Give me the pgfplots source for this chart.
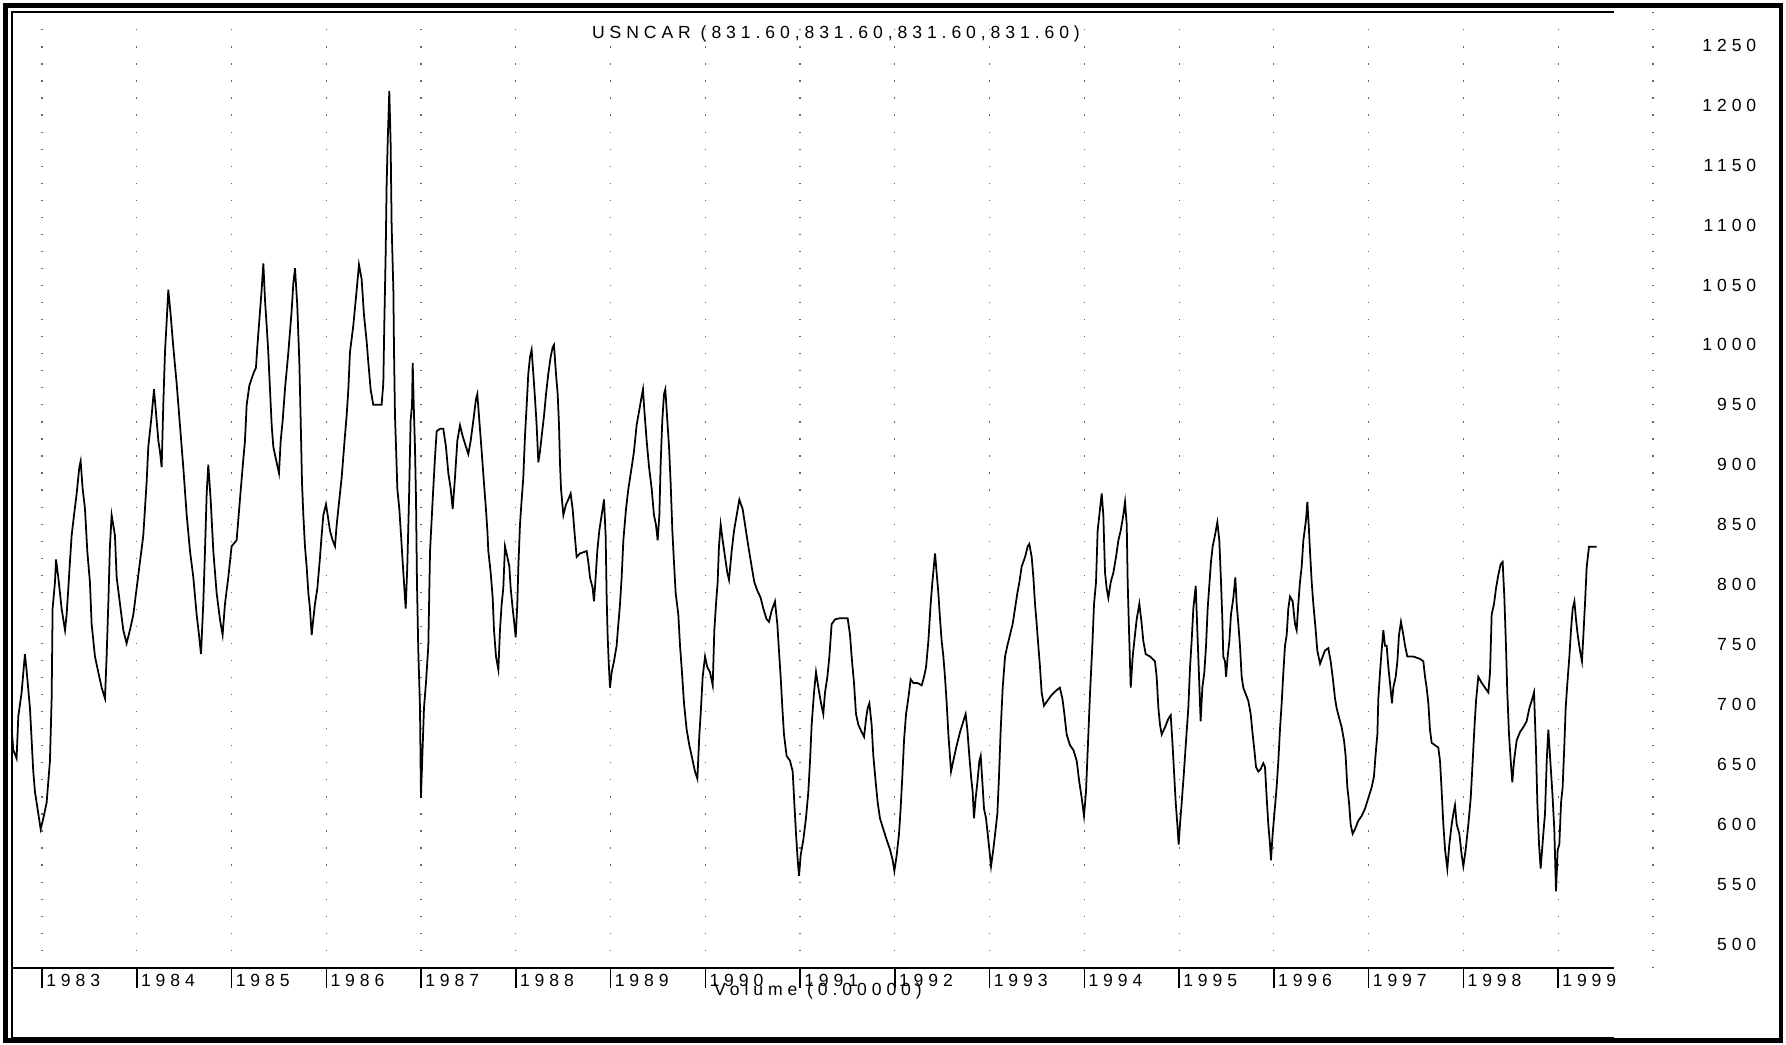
\documentclass[border=0pt]{standalone}
\usepackage{fontspec}
\setmainfont{Liberation Sans}
\newfontfamily\lsfont{Liberation Sans}[LetterSpace=28]
\usepackage{pgfplots}
\pgfplotsset{compat=1.18}
\newcommand\chartfont{\lsfont\fontsize{5pt}{6pt}\selectfont}
\pgfplotstableread{
x y
1982.679 680
1982.696 662
1982.731 655
1982.749 690
1982.784 710
1982.819 742
1982.837 728
1982.872 697
1982.890 670
1982.907 644
1982.925 627
1982.960 609
1982.985 596
1983.013 605
1983.048 618
1983.083 653
1983.101 705
1983.111 780
1983.136 802
1983.147 821
1983.171 806
1983.189 793
1983.206 780
1983.242 762
1983.259 775
1983.277 797
1983.294 819
1983.312 841
1983.337 858
1983.365 876
1983.393 898
1983.407 903
1983.428 880
1983.453 863
1983.477 828
1983.505 802
1983.523 767
1983.558 740
1983.593 727
1983.629 714
1983.664 705
1983.681 740
1983.699 784
1983.716 832
1983.734 858
1983.769 841
1983.787 806
1983.822 784
1983.857 762
1983.892 751
1983.927 762
1983.963 775
1983.998 797
1984.033 819
1984.068 841
1984.103 885
1984.121 915
1984.156 941
1984.181 963
1984.209 937
1984.227 920
1984.244 911
1984.262 898
1984.279 950
1984.297 994
1984.315 1020
1984.332 1046
1984.357 1025
1984.385 998
1984.420 968
1984.455 933
1984.490 898
1984.526 858
1984.561 828
1984.596 806
1984.631 775
1984.656 758
1984.677 742
1984.701 784
1984.719 828
1984.737 876
1984.754 900
1984.779 871
1984.807 828
1984.842 793
1984.877 771
1984.905 758
1984.930 784
1984.965 806
1985.000 832
1985.053 837
1985.088 871
1985.124 905
1985.141 920
1985.159 950
1985.187 966
1985.229 976
1985.257 981
1985.271 998
1985.292 1020
1985.317 1046
1985.335 1068
1985.352 1038
1985.370 1016
1985.387 994
1985.405 963
1985.423 933
1985.440 915
1985.475 902
1985.500 893
1985.518 920
1985.539 937
1985.563 963
1985.599 994
1985.616 1011
1985.634 1029
1985.651 1051
1985.669 1064
1985.693 1033
1985.715 985
1985.729 937
1985.743 885
1985.757 858
1985.774 832
1985.792 815
1985.810 793
1985.827 780
1985.845 758
1985.862 771
1985.880 784
1985.905 797
1985.933 823
1985.950 841
1985.968 858
1985.996 867
1986.014 858
1986.038 845
1986.066 837
1986.091 832
1986.109 850
1986.137 871
1986.161 889
1986.196 924
1986.214 941
1986.232 963
1986.249 994
1986.284 1016
1986.320 1046
1986.344 1067
1986.372 1055
1986.397 1025
1986.425 1003
1986.443 985
1986.467 963
1986.495 950
1986.531 950
1986.583 950
1986.601 968
1986.612 1020
1986.626 1077
1986.636 1134
1986.647 1169
1986.664 1212
1986.678 1169
1986.689 1099
1986.707 1046
1986.714 994
1986.724 941
1986.735 915
1986.749 880
1986.770 863
1986.788 841
1986.805 819
1986.819 802
1986.837 780
1986.854 815
1986.872 871
1986.889 937
1986.904 950
1986.911 985
1986.925 941
1986.935 915
1986.946 871
1986.956 802
1986.970 745
1986.988 697
1986.998 622
1987.013 657
1987.030 697
1987.051 718
1987.076 749
1987.094 828
1987.122 871
1987.146 906
1987.164 928
1987.199 930
1987.234 930
1987.262 915
1987.287 893
1987.312 880
1987.333 863
1987.357 889
1987.382 920
1987.410 933
1987.438 924
1987.473 915
1987.498 909
1987.523 920
1987.551 937
1987.579 955
1987.593 959
1987.614 937
1987.639 911
1987.663 885
1987.684 863
1987.699 845
1987.709 828
1987.734 810
1987.755 789
1987.769 762
1987.790 740
1987.815 729
1987.832 762
1987.850 784
1987.867 797
1987.885 832
1987.910 823
1987.931 815
1987.945 797
1987.966 780
1987.984 767
1987.998 756
1988.015 784
1988.026 815
1988.043 850
1988.061 871
1988.078 889
1988.096 924
1988.114 950
1988.131 976
1988.149 990
1988.166 996
1988.184 976
1988.202 955
1988.219 933
1988.237 902
1988.254 911
1988.272 924
1988.297 941
1988.318 959
1988.342 976
1988.367 990
1988.388 998
1988.402 1000
1988.423 976
1988.441 959
1988.455 933
1988.465 902
1988.476 880
1988.501 858
1988.529 867
1988.553 871
1988.578 876
1988.599 863
1988.617 845
1988.641 823
1988.676 826
1988.747 828
1988.764 819
1988.782 806
1988.810 797
1988.824 786
1988.845 810
1988.859 828
1988.880 845
1988.905 858
1988.930 871
1988.947 841
1988.958 789
1988.968 758
1988.979 736
1988.993 714
1989.011 727
1989.035 736
1989.063 749
1989.081 767
1989.099 784
1989.116 806
1989.134 837
1989.162 863
1989.187 880
1989.222 898
1989.246 911
1989.274 933
1989.303 946
1989.327 957
1989.341 963
1989.355 946
1989.380 920
1989.405 898
1989.433 880
1989.457 858
1989.478 850
1989.496 837
1989.514 858
1989.528 902
1989.545 937
1989.563 959
1989.577 963
1989.598 937
1989.616 915
1989.633 885
1989.651 845
1989.668 819
1989.686 793
1989.714 775
1989.732 749
1989.749 731
1989.774 701
1989.802 679
1989.830 666
1989.855 657
1989.890 644
1989.915 638
1989.936 675
1989.950 692
1989.971 723
1989.996 740
1990.020 731
1990.048 727
1990.077 716
1990.094 762
1990.112 784
1990.129 802
1990.143 832
1990.161 850
1990.182 837
1990.207 823
1990.231 810
1990.249 804
1990.277 828
1990.302 845
1990.330 858
1990.358 871
1990.393 863
1990.418 850
1990.453 832
1990.488 815
1990.516 802
1990.548 795
1990.583 789
1990.611 780
1990.646 771
1990.671 769
1990.698 778
1990.734 786
1990.759 767
1990.776 745
1990.794 723
1990.812 697
1990.829 675
1990.857 657
1990.893 653
1990.921 644
1990.938 618
1990.956 592
1990.974 570
1990.988 557
1991.005 574
1991.033 587
1991.061 605
1991.086 627
1991.104 653
1991.121 683
1991.146 710
1991.167 727
1991.192 714
1991.220 701
1991.244 692
1991.262 710
1991.287 723
1991.308 740
1991.332 767
1991.368 771
1991.420 772
1991.501 772
1991.526 758
1991.543 740
1991.568 718
1991.589 692
1991.614 683
1991.649 677
1991.674 673
1991.695 688
1991.712 697
1991.730 701
1991.754 683
1991.772 657
1991.797 635
1991.818 618
1991.842 605
1991.877 596
1991.913 587
1991.948 579
1991.976 570
1991.994 561
1992.018 574
1992.043 592
1992.060 613
1992.078 640
1992.096 670
1992.117 692
1992.141 705
1992.166 721
1992.194 718
1992.236 718
1992.282 716
1992.307 723
1992.328 731
1992.353 753
1992.377 784
1992.395 802
1992.423 826
1992.440 810
1992.458 793
1992.476 771
1992.493 753
1992.511 740
1992.528 723
1992.546 701
1992.564 675
1992.592 644
1992.616 653
1992.652 666
1992.687 677
1992.722 686
1992.746 692
1992.764 679
1992.785 657
1992.803 640
1992.820 627
1992.834 605
1992.852 622
1992.870 635
1992.891 653
1992.905 657
1992.926 631
1992.940 613
1992.961 605
1992.979 592
1992.996 579
1993.014 565
1993.038 579
1993.063 596
1993.081 609
1993.098 640
1993.116 679
1993.137 714
1993.162 740
1993.186 749
1993.214 758
1993.242 767
1993.267 780
1993.292 793
1993.313 802
1993.337 815
1993.373 823
1993.401 832
1993.418 834
1993.443 823
1993.461 806
1993.478 784
1993.496 767
1993.513 749
1993.531 731
1993.548 710
1993.573 699
1993.608 703
1993.654 708
1993.707 712
1993.740 714
1993.767 705
1993.788 692
1993.812 675
1993.847 666
1993.883 662
1993.918 653
1993.946 635
1993.971 622
1993.995 607
1994.016 627
1994.041 675
1994.059 710
1994.083 749
1994.101 784
1994.122 802
1994.139 845
1994.157 858
1994.182 876
1994.199 858
1994.217 810
1994.234 797
1994.252 789
1994.277 802
1994.305 810
1994.333 823
1994.358 837
1994.382 845
1994.410 858
1994.428 869
1994.446 850
1994.456 802
1994.470 762
1994.488 714
1994.509 740
1994.526 753
1994.551 771
1994.579 784
1994.604 767
1994.621 753
1994.646 742
1994.692 740
1994.744 736
1994.762 723
1994.780 697
1994.797 683
1994.815 675
1994.850 681
1994.885 688
1994.910 691
1994.927 670
1994.945 644
1994.963 618
1994.980 600
1994.994 583
1995.008 600
1995.026 618
1995.050 644
1995.072 670
1995.096 697
1995.114 731
1995.131 753
1995.149 780
1995.174 799
1995.191 762
1995.209 723
1995.226 686
1995.244 714
1995.265 727
1995.283 749
1995.300 780
1995.335 819
1995.353 832
1995.377 841
1995.402 852
1995.423 837
1995.441 802
1995.455 771
1995.465 740
1995.483 736
1995.494 723
1995.511 740
1995.529 753
1995.546 775
1995.571 789
1995.592 806
1995.606 784
1995.624 767
1995.641 749
1995.659 723
1995.676 714
1995.705 708
1995.729 703
1995.754 692
1995.775 675
1995.793 662
1995.810 648
1995.835 644
1995.859 646
1995.887 651
1995.905 648
1995.923 622
1995.940 600
1995.958 583
1995.968 570
1995.986 592
1996.000 605
1996.028 631
1996.046 653
1996.063 679
1996.081 701
1996.099 727
1996.116 749
1996.134 758
1996.151 780
1996.169 790
1996.197 786
1996.222 767
1996.239 762
1996.257 784
1996.274 802
1996.292 815
1996.310 837
1996.338 854
1996.352 869
1996.366 850
1996.380 828
1996.398 802
1996.415 784
1996.440 762
1996.457 745
1996.486 734
1996.514 740
1996.538 745
1996.573 747
1996.598 736
1996.619 723
1996.644 705
1996.661 697
1996.690 688
1996.714 681
1996.739 670
1996.756 657
1996.774 631
1996.792 618
1996.809 600
1996.830 592
1996.855 596
1996.890 603
1996.925 607
1996.960 613
1996.996 622
1997.031 631
1997.055 640
1997.076 662
1997.091 675
1997.101 705
1997.119 727
1997.136 745
1997.154 762
1997.171 749
1997.189 749
1997.207 731
1997.224 718
1997.245 701
1997.259 714
1997.284 723
1997.302 736
1997.319 758
1997.340 769
1997.365 758
1997.383 749
1997.407 740
1997.470 740
1997.541 738
1997.576 736
1997.594 723
1997.611 714
1997.629 701
1997.646 679
1997.664 668
1997.699 666
1997.734 664
1997.752 653
1997.770 627
1997.787 600
1997.805 579
1997.829 563
1997.850 583
1997.875 600
1997.893 609
1997.910 616
1997.928 600
1997.956 592
1997.981 574
1997.998 565
1998.023 579
1998.051 600
1998.076 622
1998.097 653
1998.114 679
1998.132 703
1998.156 723
1998.192 718
1998.227 714
1998.262 710
1998.280 727
1998.297 775
1998.322 784
1998.343 797
1998.367 808
1998.392 817
1998.413 819
1998.431 789
1998.448 749
1998.462 710
1998.480 675
1998.498 653
1998.515 635
1998.533 653
1998.561 670
1998.596 677
1998.631 681
1998.666 686
1998.695 697
1998.719 703
1998.744 710
1998.765 662
1998.779 618
1998.797 583
1998.814 563
1998.842 592
1998.860 609
1998.878 653
1998.895 679
1998.920 648
1998.937 627
1998.958 596
1998.976 544
1998.994 579
1999.011 583
1999.029 618
1999.046 631
1999.064 666
1999.078 697
1999.096 718
1999.117 740
1999.134 762
1999.152 780
1999.170 786
1999.187 771
1999.205 758
1999.229 745
1999.250 736
1999.265 758
1999.282 784
1999.300 815
1999.324 831.6
1999.405 831.6
}\usncar
\begin{document}
\begin{tikzpicture}
\begin{axis}[
  at={(1.1mm,-1.2mm)}, anchor=north west,
  scale only axis, width=174.6mm, height=95.6mm,
  xmin=1982.672, xmax=2001.097, ymin=480.1, ymax=1277.8,
  axis line style={draw=none},
  tick align=outside, major tick length=2mm,
  xtick={1983,...,1999},
  xticklabels={1983,1984,1985,1986,1987,1988,1989,1990,1991,1992,1993,1994,1995,1996,1997,1998,1999},
  xtick pos=left,
  xtick style={black, line width=0.45pt},
  xticklabel style={font=\chartfont, anchor=west, xshift=0.35mm, yshift=0.8mm, inner sep=0pt},
  extra x ticks={2000}, extra x tick labels={},
  extra x tick style={grid=major, major tick length=0pt},
  ytick={500,550,...,1250},
  yticklabels={500,550,600,650,700,750,800,850,900,950,1000,1050,1100,1150,1200,1250},
  ytick pos=right, yticklabel pos=right,
  ytick style={draw=none},
  yticklabel style={font=\chartfont, anchor=east, xshift=-2mm, inner sep=0pt},
  xmajorgrids, ymajorgrids=false,
  grid style={black!60, line width=0.35pt, dash pattern=on 0.35pt off 4.5pt},
]
\addplot[black, line width=0.5pt, mark=none] table[x=x, y=y] {\usncar};
\end{axis}
\begin{scope}[x=0.1mm, y=-0.1mm]
\path (0,0) rectangle (1786,1044);
\draw[line width=0.45mm] (5.5,5.5) rectangle (1781,1040.5);
\draw[line width=0.15mm] (1614,12) -- (12,12) -- (12,1038) -- (1614,1038);
\draw[line width=0.15mm] (12,968) -- (1614,968);
\node[font=\chartfont, inner sep=0pt] at (836,34) {USNCAR (831.60,831.60,831.60,831.60)};
\node[font=\chartfont, inner sep=0pt] at (818,991) {Volume (0.00000)};
\end{scope}
\end{tikzpicture}
\end{document}
